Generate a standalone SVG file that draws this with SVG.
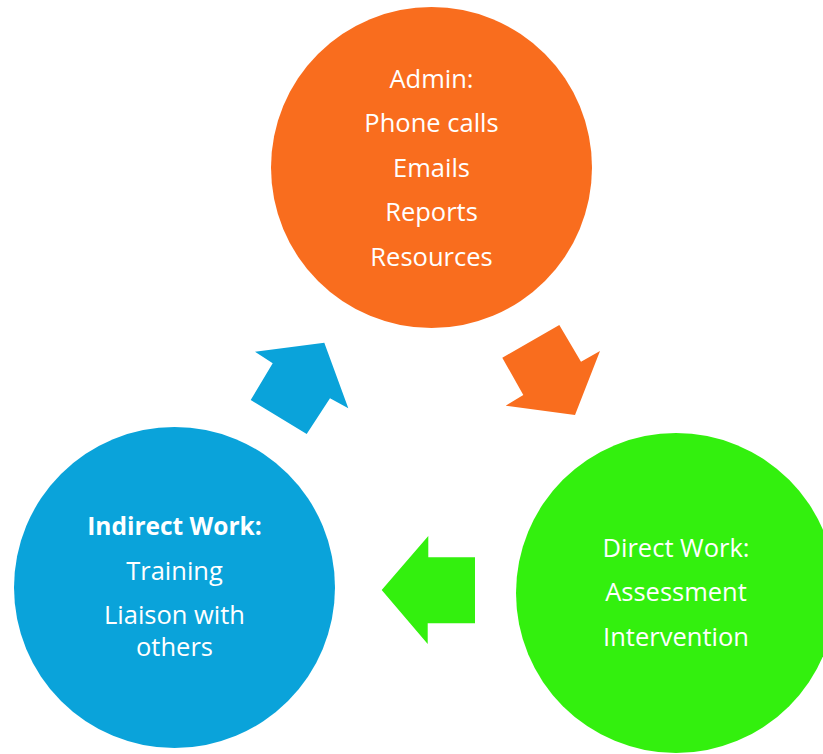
<svg xmlns="http://www.w3.org/2000/svg" width="823" height="754" viewBox="0 0 823 754">
<style>
.t{font-family:"Open Sans","Noto Sans",sans-serif;font-size:25.5px;fill:#ffffff;text-anchor:middle}
.b{font-weight:bold;font-size:24.5px}
.or{fill:#F96D1E}
.gr{fill:#33F00E}
.bl{fill:#0AA3DA}
</style>
<rect width="823" height="754" fill="#ffffff"/>
<g id="connectors">
<polygon class="or" points="502.3,357.7 559.3,325 581,361.7 600,351 575,415 505.7,405.7 523.3,395"/>
<polygon class="gr" points="381.7,590 428.3,536 428.3,557.3 475,557.3 475,623.3 427.7,623.3 427.7,644"/>
<polygon class="bl" points="324.3,342.7 348.3,408.3 330,398.3 306.7,434 250.7,400 272.7,363.3 255,351.7"/>
</g>
<g id="admin">
<circle class="or" cx="431.5" cy="167.5" r="160.5"/>
<text class="t" x="431.5" y="87.5">Admin:</text>
<text class="t" x="431.5" y="132">Phone calls</text>
<text class="t" x="431.5" y="176.5">Emails</text>
<text class="t" x="431.5" y="221">Reports</text>
<text class="t" x="431.5" y="265.5">Resources</text>
</g>
<g id="direct">
<circle class="gr" cx="676" cy="593" r="160"/>
<text class="t" x="676" y="557">Direct Work:</text>
<text class="t" x="676" y="601">Assessment</text>
<text class="t" x="676" y="646">Intervention</text>
</g>
<g id="indirect">
<circle class="bl" cx="174.5" cy="587.5" r="160.5"/>
<text class="t b" x="174.5" y="535">Indirect Work:</text>
<text class="t" x="174.5" y="579.5">Training</text>
<text class="t" x="174.5" y="624">Liaison with</text>
<text class="t" x="174.5" y="656">others</text>
</g>
</svg>
